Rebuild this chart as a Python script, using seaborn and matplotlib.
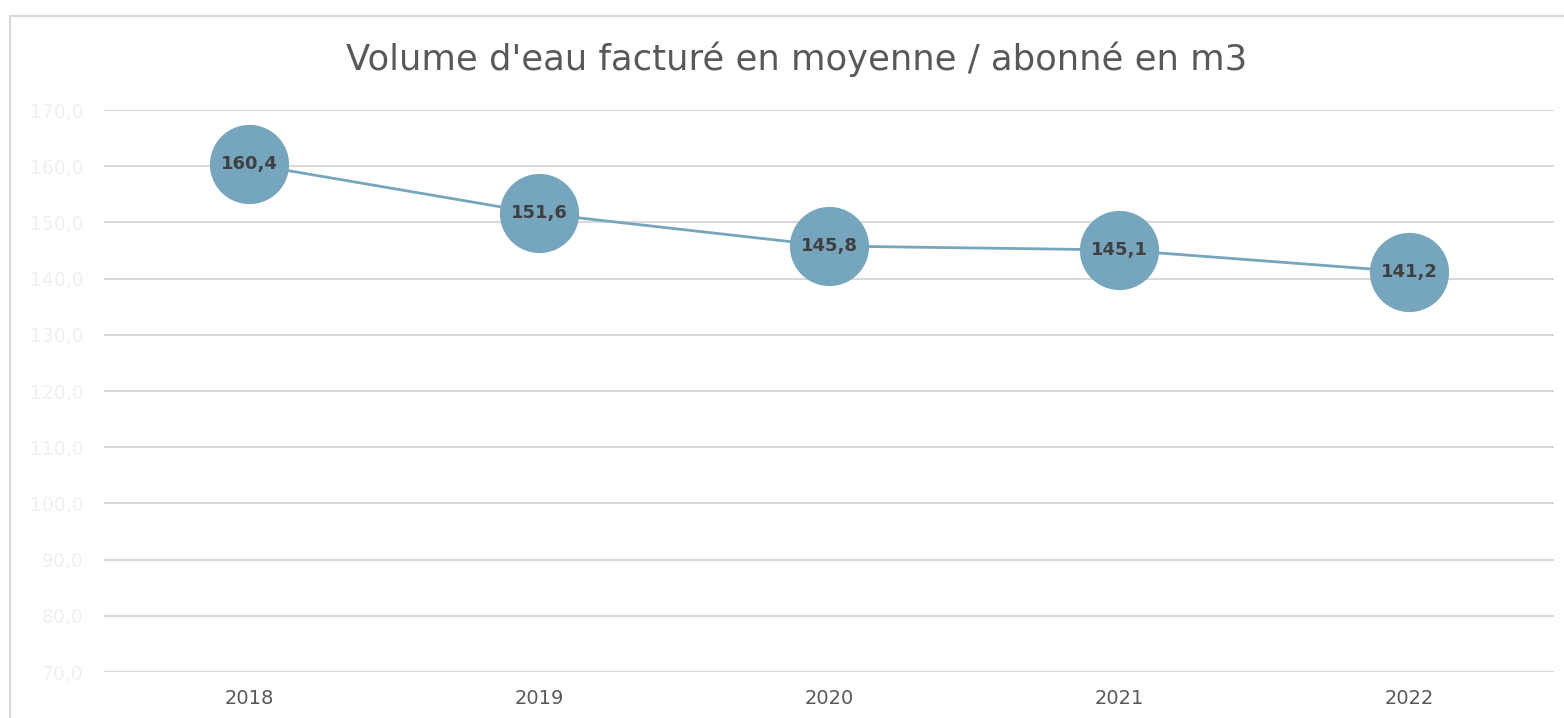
import matplotlib
matplotlib.use("Agg")
import matplotlib.pyplot as plt
from matplotlib.patches import Rectangle
import seaborn as sns
import pandas as pd

years = ["2018", "2019", "2020", "2021", "2022"]
volumes = [160.4, 151.6, 145.8, 145.1, 141.2]
y_ticks = [70, 80, 90, 100, 110, 120, 130, 140, 150, 160, 170]

sns.set_theme(style="white")
plt.rcParams["font.family"] = ["DejaVu Sans"]

df = pd.DataFrame({"annee": years, "volume": volumes})

fig = plt.figure(figsize=(15.64, 7.18), dpi=100)
ax = fig.add_axes([104 / 1564, 1 - 672 / 718, 1450 / 1564, 562 / 718])

blue = "#76A5BE"
sns.lineplot(data=df, x="annee", y="volume", ax=ax, color=blue, linewidth=2,
             marker="o", markersize=57, markeredgewidth=0, markerfacecolor=blue,
             sort=False)

for i, v in enumerate(volumes):
    ax.text(i, v, f"{v:.1f}".replace(".", ","), ha="center", va="center",
            fontsize=13, fontweight="bold", color="#404040")

ax.set_xlim(-0.5, len(years) - 0.5)
ax.set_ylim(70, 170)
ax.set_yticks(y_ticks)
ax.set_yticklabels([f"{t:.1f}".replace(".", ",") for t in y_ticks],
                   color="#F0F0F0", fontsize=13.5)
ax.tick_params(axis="y", pad=15, length=0)
ax.tick_params(axis="x", labelsize=14, labelcolor="#595959", pad=12, length=0)
ax.set_xlabel("")
ax.set_ylabel("")
ax.grid(axis="y", color="#D9D9D9", linewidth=1.5)
ax.set_axisbelow(True)
for s in ax.spines.values():
    s.set_visible(False)

fig.text(797 / 1564, 1 - 59 / 718, "Volume d'eau facturé en moyenne / abonné en m3",
         ha="center", va="center", fontsize=25.5, color="#595959")

fig.patches.append(Rectangle((10 / 1564, -0.1), 1.2, 1.1 - 16 / 718,
                             transform=fig.transFigure, fill=False,
                             edgecolor="#D9D9D9", linewidth=1.5))

fig.savefig("out.png", dpi=100)
